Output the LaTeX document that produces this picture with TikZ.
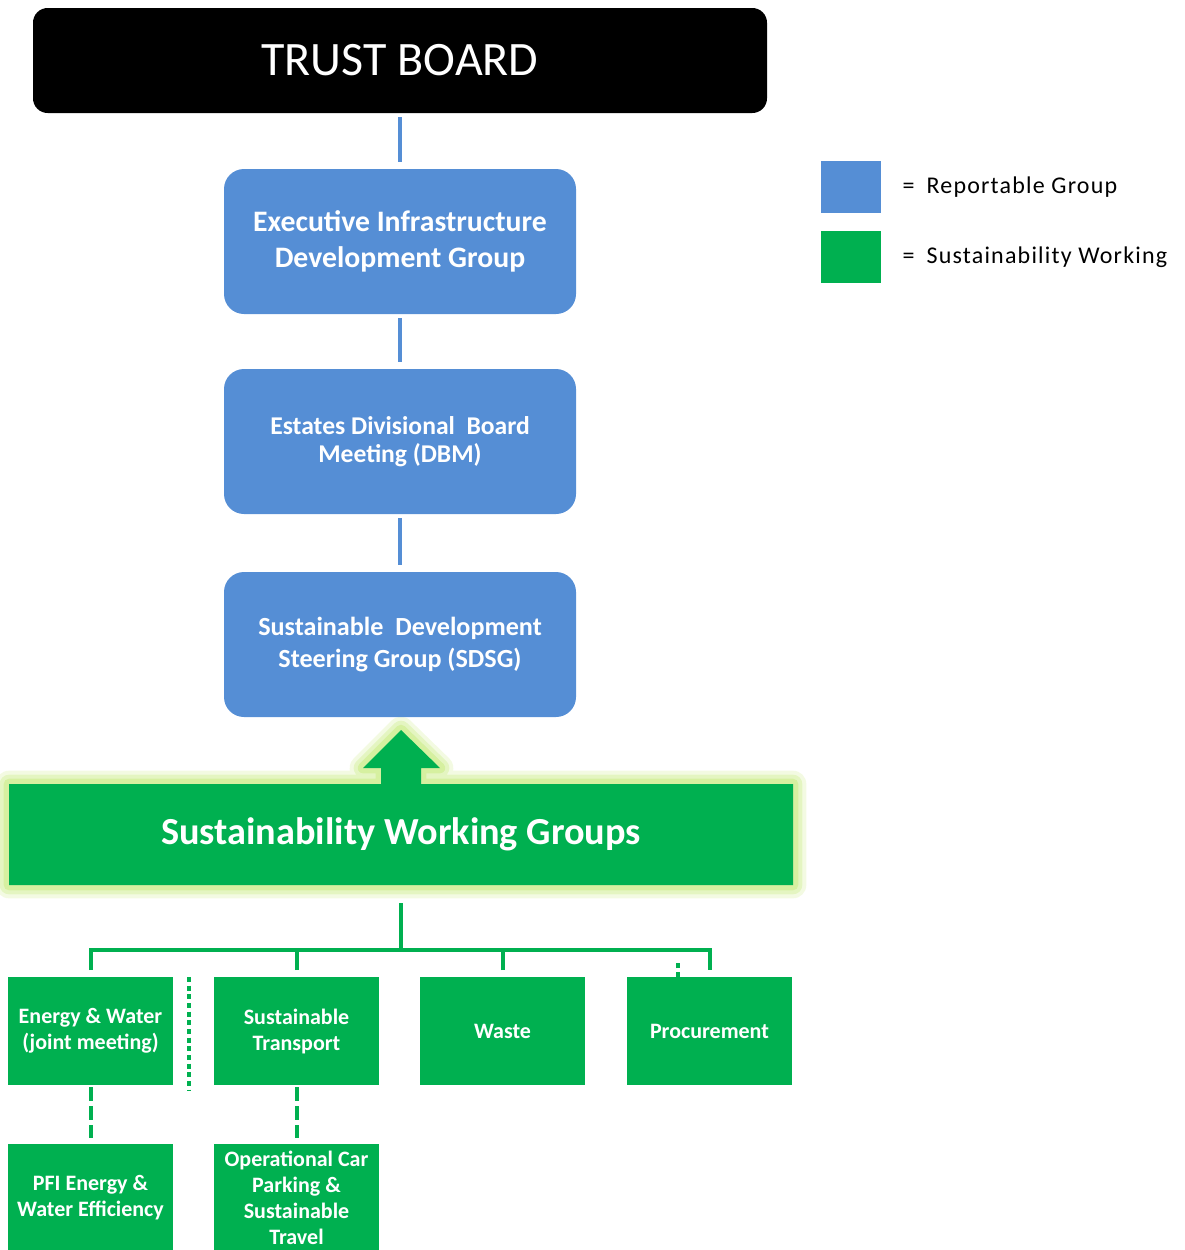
\documentclass[tikz,border=0pt]{standalone}
\usepackage{fontspec}
\setmainfont{Carlito}
\usetikzlibrary{positioning,backgrounds}
\definecolor{repblue}{RGB}{85,142,213}
\definecolor{swggreen}{RGB}{0,176,80}
\definecolor{glowgreen}{RGB}{214,240,160}

\begin{document}
\begin{tikzpicture}[x=0.75pt, y=-0.75pt, node distance=42pt]
  \tikzstyle{board}=[rectangle, rounded corners=11pt, fill=black, text=white, minimum width=550.5pt, minimum height=78.75pt, font=\fontsize{36}{40}\selectfont, inner sep=0pt, outer sep=0pt]
  \tikzstyle{reportable}=[rectangle, rounded corners=15pt, fill=repblue, text=white, minimum width=264pt, minimum height=108.75pt, align=center, inner sep=0pt, outer sep=0pt]
  \tikzstyle{swgbox}=[rectangle, text=white, minimum width=588pt, minimum height=75.75pt, font=\bfseries\fontsize{28.7}{32}\selectfont, inner sep=0pt, outer sep=0pt]
  \tikzstyle{working}=[rectangle, fill=swggreen, text=white, minimum width=123.75pt, minimum height=81pt, align=center, font=\bfseries\fontsize{16.5}{19.5}\selectfont, inner sep=0pt, outer sep=0pt]
  \tikzstyle{glow}=[preaction={draw=glowgreen, opacity=0.3, line width=20pt, line join=round}, preaction={draw=glowgreen, opacity=0.5, line width=14pt, line join=round}, preaction={draw=glowgreen, line width=8pt, line join=round}]
  \tikzstyle{blueline}=[draw=repblue, line width=3pt, shorten <=3pt, shorten >=5pt]
  \tikzstyle{greenline}=[draw=swggreen, line width=3pt]
  \tikzstyle{dashline}=[draw=swggreen, line width=3pt, dash pattern=on 10.5pt off 3.75pt]
  \tikzstyle{dotline}=[draw=swggreen, line width=3pt, dash pattern=on 3.75pt off 2.75pt]
  \tikzstyle{legendbox}=[rectangle, minimum width=45pt, minimum height=39pt, inner sep=0pt, outer sep=0pt]
  \tikzstyle{legendtext}=[font=\fontsize{18}{22}\selectfont\addfontfeature{LetterSpace=5}, inner sep=0pt, anchor=west]

  \useasboundingbox (0,0) rectangle (1185,1250);

  % reporting line
  \node[board] (tb) at (400,60.5) {TRUST BOARD};
  \node[reportable, below=42pt of tb, font=\bfseries\fontsize{22.3}{27.5}\selectfont] (eidg) {Executive Infrastructure\\Development Group};
  \node[reportable, below=41.25pt of eidg, font=\bfseries\fontsize{19.2}{21}\selectfont] (dbm) {Estates Divisional~ Board\\Meeting (DBM)};
  \node[reportable, below=43.5pt of dbm, font=\bfseries\fontsize{19.6}{24}\selectfont] (sdsg) {Sustainable~ Development\\Steering Group (SDSG)};

  \draw[blueline] (tb) -- (eidg);
  \draw[blueline] (eidg) -- (dbm);
  \draw[blueline] (dbm) -- (sdsg);

  % working groups
  \node[swgbox] (swg) at (401,834.5) {Sustainability Working Groups};
  \begin{scope}[on background layer]
    \fill[swggreen, glow] (swg.south west) -- (swg.north west) -- ([xshift=-15pt]swg.north) -- ++(0,-16) -- ++(-18,0) -- ++(38,-38) -- ++(39,38) -- ++(-19,0) -- ++(0,16) -- (swg.north east) -- (swg.south east) -- cycle;
  \end{scope}

  \node[working] (ew) at (90.5,1031) {Energy \& Water\\(joint meeting)};
  \node[working, right=30.75pt of ew] (st) {Sustainable\\Transport};
  \node[working, right=30.75pt of st] (waste) {Waste};
  \node[working, right=31.5pt of waste] (proc) {Procurement};
  \node[working, below=44.25pt of ew] (pfi) {PFI Energy \&\\Water Efficiency};
  \node[working, below=44.25pt of st] (ocp) {Operational Car\\Parking \&\\Sustainable\\Travel};

  \draw[greenline] ([yshift=-13.5pt]swg.south) -- ++(0,47) coordinate (bus);
  \draw[greenline] ([yshift=5.25pt]ew.north) |- (bus) -| ([yshift=5.25pt]proc.north);
  \draw[greenline] ([yshift=5.25pt]st.north) -- (st.north |- bus);
  \draw[greenline] ([yshift=5.25pt]waste.north) -- (waste.north |- bus);
  \draw[dotline] ([xshift=-23.5pt]proc.north) -- ++(0,-15);
  \draw[dotline] ([xshift=12pt]ew.north east) -- ([xshift=12pt,yshift=-4pt]ew.south east);
  \draw[dashline] ([yshift=-1.5pt]ew.south) -- ([yshift=4.5pt]pfi.north);
  \draw[dashline] ([yshift=-1.5pt]st.south) -- ([yshift=4.5pt]ocp.north);

  % legend
  \node[legendbox, fill=repblue] (legrep) at (851,187) {};
  \node[legendbox, fill=swggreen] (legswg) at (851,257) {};
  \node[legendtext] (txtrep) at ([xshift=16pt]legrep.east) {=\hspace{9pt}Reportable Group};
  \node[legendtext] (txtswg) at ([xshift=16pt]legswg.east) {=\hspace{9pt}Sustainability Working};
\end{tikzpicture}
\end{document}
